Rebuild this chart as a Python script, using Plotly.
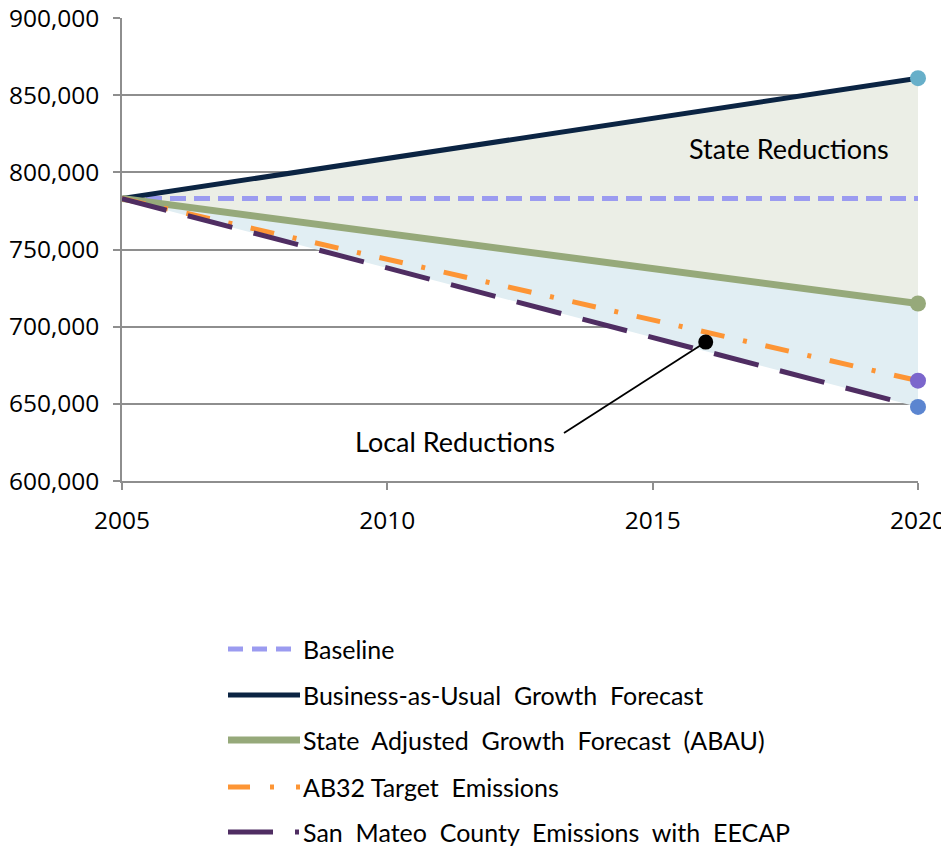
import plotly.graph_objects as go

# ---------------- data ----------------
years = [2005, 2020]
baseline = [783000, 783000]
bau = [783000, 861000]
abau = [783000, 715000]
ab32 = [783000, 665000]
san_mateo = [783000, 648000]

series_names = [
    "Baseline",
    "Business-as-Usual  Growth  Forecast",
    "State  Adjusted  Growth  Forecast  (ABAU)",
    "AB32 Target  Emissions",
    "San  Mateo  County  Emissions  with  EECAP",
]
local_point = (2016, 690000)
x_ticks = [2005, 2010, 2015, 2020]
y_ticks = [600000, 650000, 700000, 750000, 800000, 850000, 900000]

# ---------------- style ----------------
PAGE_W, PAGE_H = 949, 850
OFF = 8  # default body margin of the html page
W, H = PAGE_W - OFF, PAGE_H - OFF
L, R, T, B = 122, 918, 18, 481  # plot area in page pixels
C_BASE = "#9b9bf0"
C_BAU = "#0b2443"
C_ABAU = "#96a97a"
C_AB32 = "#fd9535"
C_SM = "#4f2d62"
FILL_STATE = "#ebeee6"
FILL_LOCAL = "#e1eef3"
GRID = "#8e8e8e"
TXT_FONT = "Lato"
TICK_FONT = dict(family="Open Sans", size=24.5, color="black")

def spaced(s):
    return s.replace("  ", "\u00a0 ")

fig = go.Figure()

# filled regions
fig.add_trace(go.Scatter(x=years, y=san_mateo, mode="lines", line=dict(width=0),
                         showlegend=False, hoverinfo="skip"))
fig.add_trace(go.Scatter(x=years, y=abau, mode="lines", line=dict(width=0),
                         fill="tonexty", fillcolor=FILL_LOCAL, showlegend=False, hoverinfo="skip"))
fig.add_trace(go.Scatter(x=years, y=bau, mode="lines", line=dict(width=0),
                         fill="tonexty", fillcolor=FILL_STATE, showlegend=False, hoverinfo="skip"))

# lines
line_specs = [
    (baseline, C_BASE, 5, "16px,8px", None),
    (bau, C_BAU, 5, "solid", "#67afc9"),
    (abau, C_ABAU, 7, "solid", C_ABAU),
    (ab32, C_AB32, 5, "24px,19px,4px,19px", "#7b66cc"),
    (san_mateo, C_SM, 5, "46px,22px", "#5b85d0"),
]
for ys, col, w, dash, mcol in line_specs:
    fig.add_trace(go.Scatter(x=years, y=ys, mode="lines", line=dict(color=col, width=w, dash=dash),
                             showlegend=False, cliponaxis=False, hoverinfo="skip"))
for ys, col, w, dash, mcol in line_specs:
    if mcol:
        fig.add_trace(go.Scatter(x=[years[-1]], y=[ys[-1]], mode="markers",
                                 marker=dict(color=mcol, size=16), showlegend=False,
                                 cliponaxis=False, hoverinfo="skip"))

# local reductions callout
def px_to_x(px):
    return x_ticks[0] + (px - L) / (R - L) * (x_ticks[-1] - x_ticks[0])

def px_to_y(py):
    return y_ticks[-1] - (py - T) / (B - T) * (y_ticks[-1] - y_ticks[0])

fig.add_shape(type="line", x0=local_point[0], y0=local_point[1], x1=px_to_x(564), y1=px_to_y(433),
              line=dict(color="black", width=1.8))
fig.add_trace(go.Scatter(x=[local_point[0]], y=[local_point[1]], mode="markers",
                         marker=dict(color="black", size=15), showlegend=False, hoverinfo="skip"))

fig.add_annotation(x=px_to_x(455), y=px_to_y(441), text="Local Reductions", showarrow=False,
                   font=dict(family=TXT_FONT, size=27, color="black"), xanchor="center", yanchor="middle")
fig.add_annotation(x=px_to_x(789), y=px_to_y(148), text="State Reductions", showarrow=False,
                   font=dict(family=TXT_FONT, size=27, color="black"), xanchor="center", yanchor="middle")

# manual legend
leg_styles = [
    (C_BASE, 5, "15px,9px"),
    (C_BAU, 5, "solid"),
    (C_ABAU, 7, "solid"),
    (C_AB32, 5, "22px,20px,4px,22px"),
    (C_SM, 5, "45px,22px,4px,30px"),
]
def pxx(px):
    return (px - L) / (R - L)

def pxy(py):
    return (B - py) / (B - T)

leg_y = [649, 695, 740, 787, 832]
for i, (name, (col, w, dash)) in enumerate(zip(series_names, leg_styles)):
    py = leg_y[i]
    fig.add_shape(type="line", xref="paper", yref="paper", x0=pxx(228), x1=pxx(300),
                  y0=pxy(py), y1=pxy(py), line=dict(color=col, width=w, dash=dash))
    fig.add_annotation(xref="paper", yref="paper", x=pxx(301), y=pxy(py), text=spaced(name),
                       showarrow=False, xanchor="left", yanchor="middle",
                       font=dict(family=TXT_FONT, size=25, color="black"))

fig.update_layout(
    width=W, height=H,
    margin=dict(l=L - OFF, r=PAGE_W - R, t=T - OFF, b=PAGE_H - B),
    paper_bgcolor="white", plot_bgcolor="rgba(0,0,0,0)",
    showlegend=False,
    font=dict(family="Open Sans", size=25, color="black"),
)
fig.update_xaxes(range=[x_ticks[0], x_ticks[-1]], tickvals=x_ticks, showgrid=False,
                 showline=True, linecolor=GRID, linewidth=1.5, automargin=False,
                 ticks="outside", ticklen=7, tickcolor=GRID, tickwidth=1.5,
                 ticklabeloverflow="allow", ticklabelstandoff=10,
                 tickfont=TICK_FONT, zeroline=False)
fig.update_yaxes(range=[y_ticks[0], y_ticks[-1]], tickvals=y_ticks, tickformat=",d",
                 showgrid=True, gridcolor=GRID, gridwidth=1.5, automargin=False,
                 showline=True, linecolor=GRID, linewidth=1.5,
                 ticks="outside", ticklen=7, tickcolor=GRID, tickwidth=1.5,
                 ticklabeloverflow="allow", ticklabelstandoff=9,
                 tickfont=TICK_FONT, zeroline=False)

fig.write_html("out.html")
